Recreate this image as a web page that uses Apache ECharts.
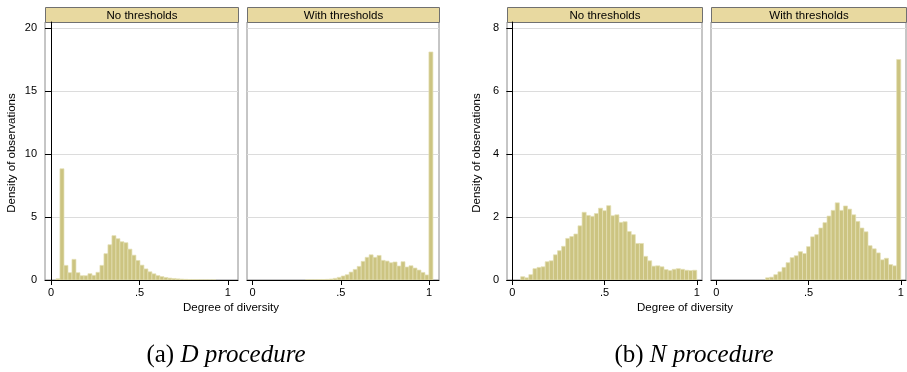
<!DOCTYPE html>
<html>
<head>
<meta charset="utf-8">
<script src="https://cdn.jsdelivr.net/npm/echarts@6.0.0/dist/echarts.min.js"></script>
<style>
  html, body { margin: 0; padding: 0; background: #fff; }
  #chart { width: 907px; height: 372px; }
</style>
</head>
<body>
<div id="chart"></div>
<script>
// ---- Data (histogram densities) ----
// (a) D procedure: common bins for both panels
const binStartA = 0.028;
const binWidthA = 0.0226;
const densityA_noThresholds = [0.1, 8.83, 1.16, 0.58, 1.64, 0.58, 0.34, 0.34, 0.5, 0.37,
  0.61, 1.16, 2.09, 2.8, 3.52, 3.28, 3.04, 2.96, 2.45, 1.97,
  1.55, 1.18, 0.88, 0.65, 0.49, 0.35, 0.27, 0.2, 0.15, 0.12,
  0.09, 0.07, 0.05, 0.04, 0.03, 0.02, 0.01, 0.01, 0.005, 0.005,
  0, 0, 0, 0];
const densityA_withThresholds = [0, 0, 0, 0, 0, 0, 0, 0, 0, 0,
  0, 0, 0.01, 0.015, 0.02, 0.03, 0.04, 0.05, 0.08, 0.13,
  0.21, 0.32, 0.42, 0.63, 0.84, 1.08, 1.48, 1.8, 2.0, 1.8,
  1.95, 1.56, 1.5, 1.37, 1.43, 1.11, 1.45, 1.03, 1.13, 0.95,
  0.79, 0.6, 0.4, 18.1];
// (b) N procedure: common bins for both panels
const binStartB = 0.045;
const binWidthB = 0.0222;
const densityB_noThresholds = [0.105, 0.07, 0.17, 0.36, 0.4, 0.42, 0.58, 0.61, 0.8, 0.93,
  1.07, 1.32, 1.38, 1.46, 1.72, 2.15, 2.05, 2.02, 2.11, 2.28,
  2.2, 2.36, 2.04, 2.07, 1.83, 1.85, 1.54, 1.44, 1.16, 1.16,
  0.75, 0.61, 0.44, 0.45, 0.42, 0.33, 0.3, 0.34, 0.36, 0.34,
  0.31, 0.3, 0.31];
const densityB_withThresholds = [0, 0, 0, 0, 0, 0, 0, 0, 0, 0,
  0.07, 0.09, 0.17, 0.26, 0.4, 0.55, 0.71, 0.77, 0.9, 0.84,
  1.06, 1.37, 1.44, 1.65, 1.82, 2.03, 2.21, 2.45, 2.21, 2.35,
  2.25, 2.07, 1.86, 1.65, 1.53, 1.09, 0.99, 0.86, 0.64, 0.69,
  0.49, 0.45, 7.0];

const xTicks = [0, 0.5, 1];
const yTicksA = [0, 5, 10, 15, 20];
const yTicksB = [0, 2, 4, 6, 8];
const panelTitles = ['No thresholds', 'With thresholds', 'No thresholds', 'With thresholds'];
const xTitle = 'Degree of diversity';
const yTitle = 'Density of observations';
const captions = [['(a) ', 'D procedure'], ['(b) ', 'N procedure']];

// ---- Build ----
function bins(start, width, values) {
  const out = [];
  values.forEach((v, i) => {
    if (v > 0) out.push([start + i * width, start + (i + 1) * width, v]);
  });
  return out;
}

const BAR = '#ccc481';
const BAR_EDGE = '#e4dfb4';
const STRIP = '#e8d9a0';
const FONT = 'Liberation Sans, Arial, sans-serif';

const panels = [
  { left: 45, width: 193, xmin: -0.034, xmax: 1.057, ymax: 20.48, yint: 5, yticks: yTicksA, showY: true, data: bins(binStartA, binWidthA, densityA_noThresholds) },
  { left: 247, width: 192, xmin: -0.032, xmax: 1.057, ymax: 20.48, yint: 5, yticks: yTicksA, showY: false, data: bins(binStartA, binWidthA, densityA_withThresholds) },
  { left: 507, width: 195, xmin: -0.029, xmax: 1.028, ymax: 8.19, yint: 2, yticks: yTicksB, showY: true, data: bins(binStartB, binWidthB, densityB_noThresholds) },
  { left: 711, width: 195, xmin: -0.029, xmax: 1.028, ymax: 8.19, yint: 2, yticks: yTicksB, showY: false, data: bins(binStartB, binWidthB, densityB_withThresholds) }
];
const TOP = 22;
const HEIGHT = 258;

function renderItem(params, api) {
  const p0 = api.coord([api.value(0), api.value(2)]);
  const p1 = api.coord([api.value(1), 0]);
  return {
    type: 'rect',
    shape: { x: p0[0], y: p0[1], width: p1[0] - p0[0], height: p1[1] - p0[1] },
    style: { fill: BAR, stroke: BAR_EDGE, lineWidth: 0.7 }
  };
}

const grid = [], xAxis = [], yAxis = [], series = [], graphic = [];
panels.forEach((p, i) => {
  grid.push({ left: p.left, top: TOP, width: p.width, height: HEIGHT, show: true,
    borderColor: '#8c8c8c', borderWidth: 1, backgroundColor: '#fff' });
  xAxis.push({
    type: 'value', gridIndex: i, min: p.xmin, max: p.xmax,
    axisLine: { show: true, onZero: false, lineStyle: { color: '#000', width: 1 } },
    axisTick: { show: true, customValues: xTicks, length: 5, lineStyle: { color: '#000' } },
    axisLabel: { show: true, customValues: xTicks, margin: 7, fontSize: 11, color: '#000', fontFamily: FONT,
      formatter: v => (v === 0.5 ? '.5' : String(v)) },
    splitLine: { show: false }
  });
  yAxis.push({
    type: 'value', gridIndex: i, min: 0, max: p.ymax, interval: p.yint,
    axisLine: { show: p.showY, lineStyle: { color: '#000', width: 1 } },
    axisTick: { show: p.showY, customValues: p.yticks, length: 6, lineStyle: { color: '#000' } },
    axisLabel: { show: p.showY, customValues: p.yticks, margin: 8, fontSize: 11, color: '#000', fontFamily: FONT },
    splitLine: { show: true, lineStyle: { color: '#dcdcdc', width: 1 } }
  });
  series.push({
    type: 'custom', xAxisIndex: i, yAxisIndex: i, renderItem: renderItem,
    encode: { x: [0, 1], y: 2 }, data: p.data, silent: true, clip: true
  });
  graphic.push({
    type: 'group', left: p.left, top: 7,
    children: [
      { type: 'rect', shape: { x: 0, y: 0, width: p.width, height: 15 },
        style: { fill: STRIP, stroke: '#707070', lineWidth: 1 } },
      { type: 'text', x: p.width / 2, y: 8,
        style: { text: panelTitles[i], font: '11.5px ' + FONT, fill: '#000', align: 'center', verticalAlign: 'middle' } }
    ]
  });
});

// axis titles
[12, 477].forEach(x => {
  graphic.push({ type: 'text', x: x, y: 153, rotation: Math.PI / 2,
    style: { text: yTitle, font: '11.5px ' + FONT, fill: '#000', align: 'center', verticalAlign: 'middle' } });
});
[231, 685].forEach(x => {
  graphic.push({ type: 'text', x: x, y: 308,
    style: { text: xTitle, font: '11.5px ' + FONT, fill: '#000', align: 'center', verticalAlign: 'middle' } });
});
// captions
[226, 694].forEach((x, i) => {
  graphic.push({ type: 'text', x: x, y: 355,
    style: { text: '{a|' + captions[i][0] + '}{b|' + captions[i][1] + '}',
      align: 'center', verticalAlign: 'middle',
      rich: {
        a: { font: '25px Liberation Serif, serif', fill: '#000' },
        b: { font: 'italic 25px Liberation Serif, serif', fill: '#000' }
      } } });
});

const chart = echarts.init(document.getElementById('chart'), null, { renderer: 'canvas' });
chart.setOption({
  animation: false,
  backgroundColor: '#fff',
  grid, xAxis, yAxis, series, graphic
});
</script>
</body>
</html>
